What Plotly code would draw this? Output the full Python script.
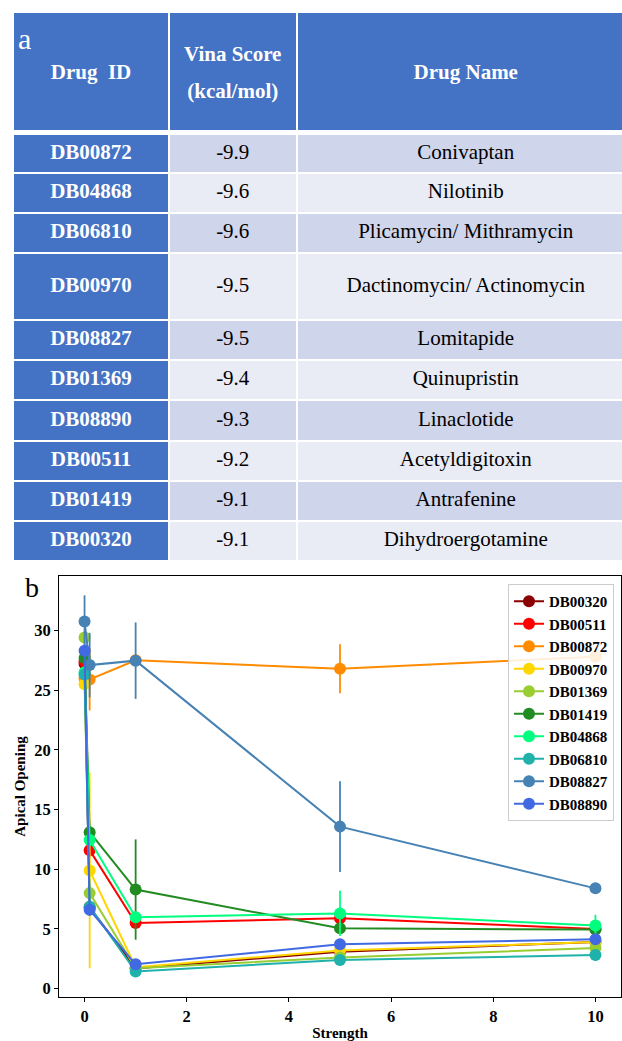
import plotly.graph_objects as go

# ---------------- table data (panel a) ----------------
TABLE_HEADER = ["Drug\u00a0\u00a0ID", "Vina Score<br>(kcal/mol)", "Drug Name"]
DRUG_IDS = ["DB00872", "DB04868", "DB06810", "DB00970", "DB08827",
            "DB01369", "DB08890", "DB00511", "DB01419", "DB00320"]
VINA_SCORES = [-9.9, -9.6, -9.6, -9.5, -9.5, -9.4, -9.3, -9.2, -9.1, -9.1]
DRUG_NAMES = ["Conivaptan", "Nilotinib", "Plicamycin/ Mithramycin",
              "Dactinomycin/ Actinomycin", "Lomitapide", "Quinupristin",
              "Linaclotide", "Acetyldigitoxin", "Antrafenine", "Dihydroergotamine"]

# ---------------- chart data (panel b) ----------------
STRENGTH = [0, 0.1, 1, 5, 10]
SERIES_NAMES = ["DB00320", "DB00511", "DB00872", "DB00970", "DB01369",
                "DB01419", "DB04868", "DB06810", "DB08827", "DB08890"]
DB00320_Y = [27.2, 6.8, 1.7, 3.1, 3.9]
DB00511_Y = [27.4, 11.6, 5.5, 5.9, 5.0]
DB00872_Y = [26.0, 25.9, 27.5, 26.8, 27.8]
DB00970_Y = [25.5, 9.9, 1.8, 3.2, 3.9]
DB01369_Y = [29.4, 8.0, 1.7, 2.6, 3.4]
DB01419_Y = [27.7, 13.1, 8.3, 5.05, 4.95]
DB04868_Y = [26.5, 12.45, 5.98, 6.3, 5.28]
DB06810_Y = [26.3, 6.87, 1.43, 2.4, 2.82]
DB08827_Y = [30.74, 27.1, 27.47, 13.57, 8.4]
DB08890_Y = [28.3, 6.6, 2.04, 3.72, 4.13]

DB00320_ERR = [0.4, 0.5, 0.2, 0.3, 0.3]
DB00511_ERR = [0.5, 0.6, 0.3, 0.4, 0.3]
DB00872_ERR = [0.5, 2.6, 0.5, 2.05, 0.5]
DB00970_ERR = [0.3, 8.2, 0.3, 0.3, 0.3]
DB01369_ERR = [0.3, 0.5, 0.2, 0.3, 0.3]
DB01419_ERR = [0.4, 0.5, 4.2, 0.3, 0.3]
DB04868_ERR = [0.4, 0.5, 0.3, 1.9, 0.9]
DB06810_ERR = [0.4, 0.5, 0.3, 0.3, 0.5]
DB08827_ERR = [2.2, 2.7, 3.2, 3.8, 0.3]
DB08890_ERR = [0.4, 0.5, 0.2, 0.3, 0.3]

X_TICKS = [0, 2, 4, 6, 8, 10]
Y_TICKS = [0, 5, 10, 15, 20, 25, 30]

SERIES_Y = [DB00320_Y, DB00511_Y, DB00872_Y, DB00970_Y, DB01369_Y,
            DB01419_Y, DB04868_Y, DB06810_Y, DB08827_Y, DB08890_Y]
SERIES_ERR = [DB00320_ERR, DB00511_ERR, DB00872_ERR, DB00970_ERR, DB01369_ERR,
              DB01419_ERR, DB04868_ERR, DB06810_ERR, DB08827_ERR, DB08890_ERR]

# ---------------- styles / layout constants ----------------
COLORS = ["#8B0000", "#FF0000", "#FF8C00", "#FFD700", "#9ACD32",
          "#228B22", "#00FF7F", "#20B2AA", "#4682B4", "#4169E1"]
W, H = 622, 1041
SERIF = "Liberation Serif, Times New Roman, serif"
BLUE = "#4472C4"
SHADE_DARK = "#CFD5EA"
SHADE_LIGHT = "#E9EBF5"

# table geometry in pixel units of the table axes
COL_EDGES = [13, 169, 296.5, 635]
HEADER_TOP, HEADER_BOTTOM, BODY_TOP = 12, 131, 134
ROW_H = [39, 40, 40, 67, 40, 40, 40.5, 40, 40.5, 40]
HEADER_LINE_GAP = 37
TABLE_FONT = 21

# chart geometry (pixels)
PLOT_L, PLOT_R, PLOT_T, PLOT_B = 59, 621, 576, 997

fig = go.Figure()

# ---- table cells as a heatmap on its own axes ----
y_edges = [HEADER_TOP, HEADER_BOTTOM, BODY_TOP]
for h in ROW_H:
    y_edges.append(y_edges[-1] + h)
z = [[0, 0, 0], [None, None, None]]
for i in range(len(DRUG_IDS)):
    shade = 1 if i % 2 == 0 else 2
    z.append([0, shade, shade])

fig.add_trace(go.Heatmap(
    x=COL_EDGES, y=y_edges, z=z, xaxis="x2", yaxis="y2",
    zmin=0, zmax=2,
    colorscale=[[0, BLUE], [0.5, SHADE_DARK], [1, SHADE_LIGHT]],
    showscale=False, xgap=2, ygap=2, hoverinfo="skip"))

col_centers = [(COL_EDGES[i] + COL_EDGES[i + 1]) / 2 for i in range(3)]
row_centers = [(y_edges[k + 2] + y_edges[k + 3]) / 2 for k in range(len(DRUG_IDS))]
header_center = (HEADER_TOP + HEADER_BOTTOM) / 2 + 2.5

# header text
hx, hy, ht = [], [], []
for c, label in enumerate(TABLE_HEADER):
    lines = label.split("<br>")
    n = len(lines)
    for j, ln in enumerate(lines):
        hx.append(col_centers[c])
        hy.append(header_center + (j - (n - 1) / 2) * HEADER_LINE_GAP)
        ht.append(ln)
fig.add_trace(go.Scatter(
    x=hx, y=hy, text=ht, mode="text", xaxis="x2", yaxis="y2",
    textfont=dict(family=SERIF, size=TABLE_FONT, color="white", weight="bold"),
    showlegend=False, hoverinfo="skip"))

# first column (ids)
fig.add_trace(go.Scatter(
    x=[col_centers[0]] * len(DRUG_IDS), y=row_centers, text=DRUG_IDS,
    mode="text", xaxis="x2", yaxis="y2",
    textfont=dict(family=SERIF, size=TABLE_FONT, color="white", weight="bold"),
    showlegend=False, hoverinfo="skip"))

# scores and names
fig.add_trace(go.Scatter(
    x=[col_centers[1]] * len(DRUG_IDS) + [col_centers[2]] * len(DRUG_IDS),
    y=row_centers + row_centers,
    text=[f"{v:.1f}" for v in VINA_SCORES] + DRUG_NAMES,
    mode="text", xaxis="x2", yaxis="y2",
    textfont=dict(family=SERIF, size=TABLE_FONT, color="black"),
    showlegend=False, hoverinfo="skip"))

# ---- chart traces ----
for name, ys, errs, col in zip(SERIES_NAMES, SERIES_Y, SERIES_ERR, COLORS):
    fig.add_trace(go.Scatter(
        x=STRENGTH, y=ys, name=name, mode="lines+markers",
        line=dict(color=col, width=2),
        marker=dict(color=col, size=12),
        error_y=dict(type="data", array=errs, visible=True,
                     color=col, thickness=1.8, width=0)))

tickfont = dict(family=SERIF, size=16.5, color="black", weight="bold")
titlefont = dict(family=SERIF, size=15, color="black", weight="bold")
fig.update_layout(
    width=W, height=H,
    margin=dict(l=0, r=0, t=0, b=0),
    paper_bgcolor="white", plot_bgcolor="rgba(0,0,0,0)",
    showlegend=True,
    xaxis=dict(domain=[PLOT_L / W, PLOT_R / W], range=[-0.5, 10.5],
               tickvals=X_TICKS, ticks="outside", ticklen=4, tickcolor="black",
               showline=True, linecolor="black", linewidth=1, mirror=True,
               showgrid=False, zeroline=False, tickfont=tickfont,
               automargin=False,
               title=dict(text="Strength", font=titlefont, standoff=3)),
    yaxis=dict(domain=[1 - PLOT_B / H, 1 - PLOT_T / H], range=[-0.7, 34.56],
               tickvals=Y_TICKS, ticks="outside", ticklen=4, tickcolor="black",
               showline=True, linecolor="black", linewidth=1, mirror=True,
               showgrid=False, zeroline=False, tickfont=tickfont,
               automargin=False,
               title=dict(text="Apical Opening", font=titlefont, standoff=4)),
    xaxis2=dict(domain=[0, 1], range=[0, W], visible=False, fixedrange=True),
    yaxis2=dict(domain=[1 - 566 / H, 1], range=[566, 0], visible=False,
                fixedrange=True),
    legend=dict(x=614 / W, y=1 - 584 / H, xanchor="right", yanchor="top",
                bgcolor="rgba(255,255,255,0.85)", bordercolor="#cccccc",
                borderwidth=1, font=dict(family=SERIF, size=15, color="black",
                                         weight="bold")),
    annotations=[
        dict(text="a", x=16 / W, y=1 - 39 / H, xref="paper", yref="paper",
             xanchor="left", yanchor="middle", showarrow=False,
             font=dict(family=SERIF, size=30, color="white")),
        dict(text="b", x=23 / W, y=1 - 587 / H, xref="paper", yref="paper",
             xanchor="left", yanchor="middle", showarrow=False,
             font=dict(family=SERIF, size=28, color="black")),
    ],
)

fig.write_html("out.html")
